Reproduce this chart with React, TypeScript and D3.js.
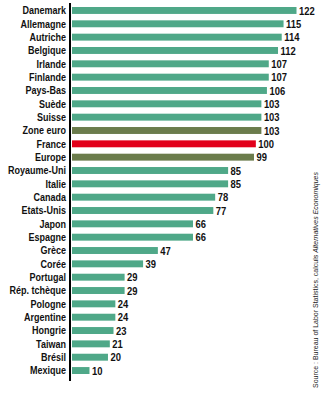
import React from "react";
import * as d3 from "d3";

const countries = ["Danemark","Allemagne","Autriche","Belgique","Irlande","Finlande","Pays-Bas","Suède","Suisse","Zone euro","France","Europe","Royaume-Uni","Italie","Canada","Etats-Unis","Japon","Espagne","Grèce","Corée","Portugal","Rép. tchèque","Pologne","Argentine","Hongrie","Taiwan","Brésil","Mexique"];
const values = [122,115,114,112,107,107,106,103,103,103,100,99,85,85,78,77,66,66,47,39,29,29,24,24,23,21,20,10];
const kinds = ["c","c","c","c","c","c","c","c","c","agg","fr","agg","c","c","c","c","c","c","c","c","c","c","c","c","c","c","c","c"];
const colors: Record<string,string> = { c: "#4fa888", agg: "#6b7c4c", fr: "#e2001a" };
const source = "Source : Bureau of Labor Statistics, calculs ";
const sourceItalic = "Alternatives Economiques";

export default function App() {
  const W = 324, H = 398;
  const x = d3.scaleLinear().domain([0, 122]).range([71, 296.5]);
  const y = d3.scaleBand().domain(countries).range([3.8, 377.2]).paddingInner(0.48).paddingOuter(0.24);
  const font = "'Liberation Sans', Arial, sans-serif";
  const sx = 0.82;
  return (
    <svg width={W} height={H} style={{ position: "absolute", left: 0, top: 0, background: "#fff" }}>
      {countries.map((c, i) => {
        const yy = y(c)!;
        const bw = y.bandwidth();
        return (
          <g key={c}>
            <rect x={x(0) + 1} y={yy} width={x(values[i]) - x(0) - 1} height={bw} fill={colors[kinds[i]]} />
            <g transform={`scale(${sx},1)`}>
              <text x={66 / sx} y={yy + bw / 2} dy="0.36em" textAnchor="end" fontFamily={font} fontWeight="bold" fontSize={11} fill="#111">{c}</text>
              <text x={(x(values[i]) + 2.5) / sx} y={yy + bw / 2} dy="0.36em" fontFamily={font} fontWeight="bold" fontSize={11.5} fill="#111">{values[i]}</text>
            </g>
          </g>
        );
      })}
      <line x1={70} x2={70} y1={3} y2={381} stroke="#000" strokeWidth={2} />
      <g transform={`translate(318,388) rotate(-90) scale(0.92,1)`}>
        <text fontFamily={font} fontSize={7.6} fill="#222">
          {source}<tspan fontStyle="italic">{sourceItalic}</tspan>
        </text>
      </g>
    </svg>
  );
}
